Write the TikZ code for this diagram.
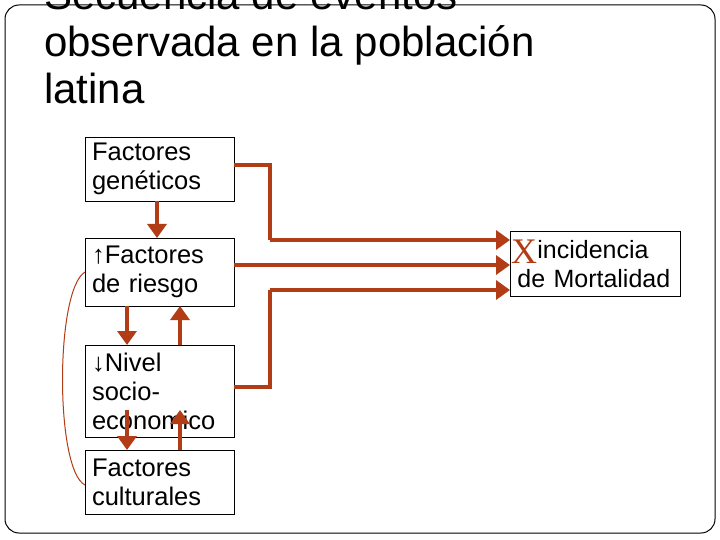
\documentclass[tikz,border=0pt]{standalone}
\usepackage{fontspec}
\setmainfont{Liberation Sans}
\newfontfamily\serifx{Liberation Serif}
\usetikzlibrary{arrows.meta}
\definecolor{rust}{RGB}{178,60,22}
\begin{document}
\begin{tikzpicture}[x=1pt,y=-1pt,
  box/.style={draw,line width=0.8pt,anchor=north west,minimum width=149pt,align=left,font=\fontsize{25.5}{29}\selectfont,inner sep=0pt,text width=149pt,outer sep=0pt},
  conn/.style={rust,line width=4pt},
  arr/.style={rust,line width=4pt,-{Triangle[width=19pt,length=14pt]}},
  thin/.style={rust,line width=1pt}]
\clip (0,0) rectangle (720,540);
\fill[white] (0,0) rectangle (720,540);
\draw[line width=1pt,rounded corners=14pt] (5,5) rectangle (715,533);
\node[anchor=north west,align=left,font=\fontsize{42}{47}\selectfont,inner sep=0pt] (title) at (44,-21) {Secuencia de eventos\\observada en la población\\latina};
\node[box,minimum height=64pt] (gen) at (85,137) {\hspace*{7pt}Factores\\\hspace*{7pt}genéticos};
\node[box,minimum height=68pt] (ries) at (85,238) {\hspace*{7pt}↑Factores\\\hspace*{7pt}de riesgo};
\node[box,minimum height=92pt] (niv) at (85,345) {\hspace*{7pt}↓Nivel\\\hspace*{7pt}socio-\\\hspace*{7pt}economico};
\node[box,minimum height=64pt] (cul) at (85,450) {\hspace*{7pt}Factores\\\hspace*{7pt}culturales};
\node[draw,line width=0.8pt,anchor=north west,minimum width=170pt,minimum height=65pt,text width=170pt,inner sep=0pt,align=left,font=\fontsize{25}{29}\selectfont] (res) at (510,231) {\hspace*{27pt}incidencia\\\hspace*{7pt}de Mortalidad};
\node[rust,font=\serifx\fontsize{36}{36}\selectfont,inner sep=0pt] (x) at (524,252) {X};
\coordinate (a1) at (270,165);
\coordinate (a2) at (270,240);
\coordinate (b1) at (270,387);
\coordinate (b2) at (270,290);
\draw[conn] (gen.east|-a1) -- (a1) -- (a2);
\draw[arr] (a2) -- (res.west|-a2);
\draw[arr] (ries.east|-0,265) -- (res.west|-0,265);
\draw[conn] (niv.east|-b1) -- (b1) -- (b2);
\draw[arr] (b2) -- (res.west|-b2);
\draw[arr] (gen.south-|157,0) -- (ries.north-|157,0);
\draw[arr] (ries.south-|127,0) -- (niv.north-|127,0);
\draw[arr] (niv.north-|180,0) -- (ries.south-|180,0);
\coordinate (c1) at (127,410);
\coordinate (c2) at (180,410);
\draw[arr] (c1) -- (cul.north-|127,0);
\draw[arr] (cul.north-|180,0) -- (c2);
\coordinate (d1) at (85,272);
\coordinate (d2) at (85,485);
\draw[thin] (ries.west|-d1) .. controls (55,290) and (55,470) .. (cul.west|-d2);
\end{tikzpicture}
\end{document}
